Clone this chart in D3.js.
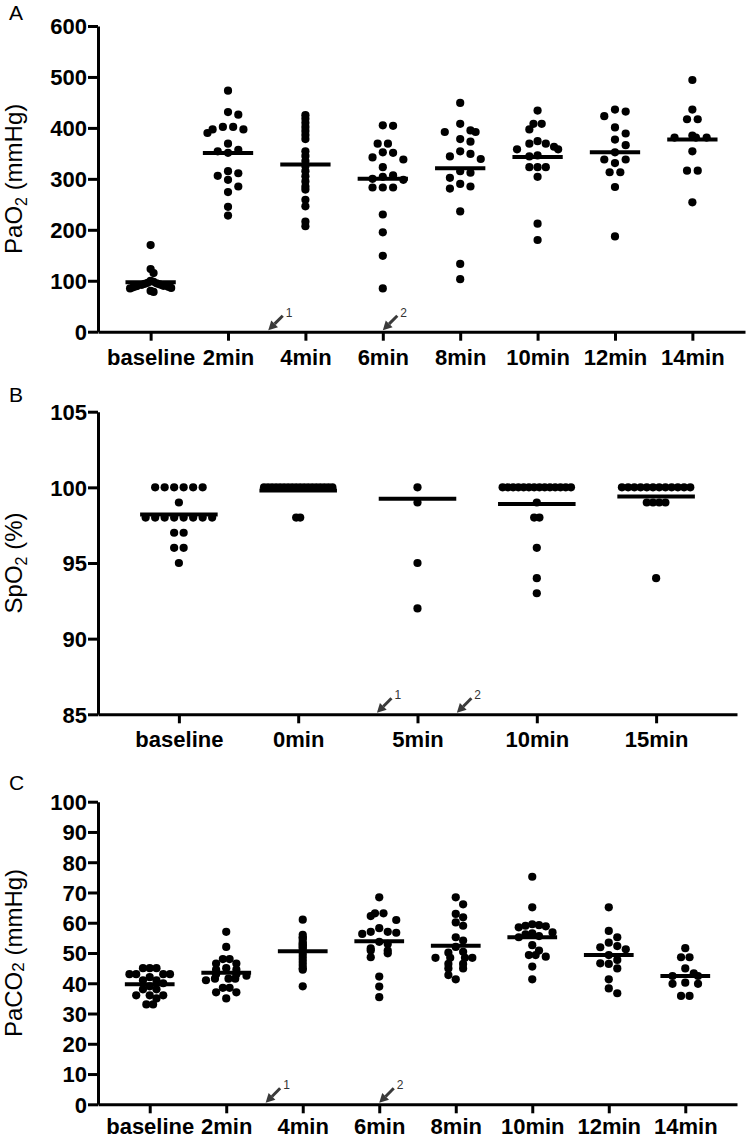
<!DOCTYPE html>
<html><head><meta charset="utf-8">
<script src="https://cdn.jsdelivr.net/npm/d3@7"></script>
<style>body{margin:0;background:#fff}svg{display:block}</style>
</head><body>
<svg id="chart" width="748" height="1141"></svg>
<script>
// ================= DATA =================
// Panel A – PaO2 (mmHg)
const categoriesA = ["baseline","2min","4min","6min","8min","10min","12min","14min"];
const paO2Values = [
  [170,123,115,100,98,96,95,94,93,92,91,90,90,89,88,87,86,85,80,78],
  [473,431,426,402,397,390,397,402,369,354,357,351,315,298,311,306,285,274,245,228],
  [425,418,410,402,394,386,378,354,345,335,325,315,305,295,285,279,259,246,216,207],
  [404,405,369,369,352,342,338,351,323,304,298,307,300,283,283,283,230,195,149,85],
  [449,408,392,392,395,378,373,354,349,344,339,312,315,302,290,285,281,236,133,103],
  [434,408,408,397,374,369,369,358,363,358,344,346,323,323,323,304,212,180],
  [436,423,432,401,389,377,366,352,338,338,331,313,313,284,187],
  [494,436,417,417,385,381,381,381,354,316,316,254]
];
const meansA = [97, 350.6, 328, 300, 321, 343, 352, 377];
const ticksA = [0,100,200,300,400,500,600];
const arrowsA = [1.52, 3.0];          // arrow positions in category-index units
const arrowLabels = ["1","2"];

// Panel B – SpO2 (%)
const categoriesB = ["baseline","0min","5min","10min","15min"];
const spO2Values = [
  [100,100,100,100,100,100,99,98,98,98,98,98,98,98,98,97,97,96,96,95],
  [100,100,100,100,100,100,100,100,100,100,100,100,100,100,100,100,100,100,98,98],
  [100,99,95,92],
  [100,100,100,100,100,100,100,100,100,100,100,100,100,100,99,98,98,96,94,93],
  [100,100,100,100,100,100,100,100,100,100,100,100,99,99,99,99,94]
];
const meansB = [98.2, 99.8, 99.25, 98.9, 99.4];
const ticksB = [85,90,95,100,105];
const arrowsB = [1.66, 2.33];

// Panel C – PaCO2 (mmHg)
const categoriesC = ["baseline","2min","4min","6min","8min","10min","12min","14min"];
const paCO2Values = [
  [45,45,45,43,43,43,43,42,41,41,40,39,38,38,36,36,36,35,33,33],
  [57,52,48,48,46.5,46.5,45,44.5,44.5,43,43,42.5,41.5,41.5,41.5,41,38.5,38.5,37,37,35],
  [61,56,55,55,54,53,53,52,52,51,50,49,48,47,46,45,44.5,39],
  [68.4,63.1,63.1,62.2,60.9,58.2,57,56.7,57,56.3,53.7,53,50.8,50.8,51.5,49.9,48.6,42.2,38.9,35.4],
  [68.4,66.1,62.9,61.8,60.1,59.0,55.2,54.1,52,50.4,50.1,48.4,48.4,48.4,48.4,46.4,46.4,44.9,44.9,42.7,41.3],
  [75.2,65.1,59.5,59,58.8,58.5,59.2,56.8,56.5,55.6,55.2,56.2,52.6,50.8,49.3,49.3,48.8,45.5,41.3],
  [65.1,57.3,55.2,53.4,52.3,51.9,51.2,49.3,47.7,46.6,46.4,44.9,41.3,38.3,36.7],
  [51.6,48.6,48.6,44.9,43.3,42.4,42.4,39.8,40.2,39.8,35.8,35.8]
];
const meansC = [39.7, 43.5, 50.6, 53.9, 52.4, 55.2, 49.3, 42.4];
const ticksC = [0,10,20,30,40,50,60,70,80,90,100];
const arrowsC = [1.515, 3.0];

// ================= LAYOUT / STYLE =================
const FONT = "'Liberation Sans', Arial, Helvetica, sans-serif";
const svg = d3.select("#chart");
const R = 4.1;           // dot radius
const DOT_D = 8.2;       // vertical collision distance

const panels = [
  {letter:"A", letterY:20, cats:categoriesA, values:paO2Values, means:meansA, ticks:ticksA,
   domain:[0,600], x0:98, x1:745, yTop:26, yBot:331.7, spacing:10.7, pad:0.68, labelY:33,
   title:[["PaO",0,24],["2",5,16],[" (mmHg)",-5,24]], arrows:arrowsA, noSwarm:["4min"]},
  {letter:"B", letterY:401.7, cats:categoriesB, values:spO2Values, means:meansB, ticks:ticksB,
   domain:[85,105], x0:98, x1:737, yTop:411.7, yBot:714.3, spacing:9.5, pad:0.678, labelY:33,
   title:[["SpO",0,24],["2",5,16],[" (%)",-5,24]], arrows:arrowsB, noSwarm:[]},
  {letter:"C", letterY:790, cats:categoriesC, values:paCO2Values, means:meansC, ticks:ticksC,
   domain:[0,100], x0:98, x1:737, yTop:801.7, yBot:1104.3, spacing:8.5, pad:0.676, labelY:30,
   title:[["PaCO",0,24],["2",2,17],[" (mmHg)",-2,24]], arrows:arrowsC, noSwarm:["4min"]}
];

function swarm(vals, y, s, limit, spread) {
  const pts = vals.map(v => ({v, y: y(v)})).sort((a,b) => a.y - b.y);
  if (!spread) { pts.forEach(p => p.off = 0); return pts; }
  const placed = [];
  for (const p of pts) {
    let best = null;
    for (let k = 0; k < 80 && best === null; k++) {
      let cands = k === 0 ? [0] : [k*s/2, -k*s/2];
      const near = placed.filter(q => Math.abs(q.y - p.y) < DOT_D);
      if (d3.sum(near, q => q.off) > 0) cands.reverse();
      for (const off of cands) {
        if (near.every(q => Math.abs(q.off - off) >= s - 1e-6)) { best = off; break; }
      }
    }
    p.off = best; placed.push(p);
  }
  d3.group(placed, p => p.v).forEach(g => {
    if (g.length > 1) { const m = d3.mean(g, p => p.off); g.forEach(p => p.off -= m); }
  });
  const maxOff = d3.max(placed, p => Math.abs(p.off));
  if (maxOff > limit) placed.forEach(p => p.off *= limit / maxOff);
  return placed;
}

panels.forEach(P => {
  const g = svg.append("g");
  const x = d3.scalePoint().domain(P.cats).range([P.x0, P.x1]).padding(P.pad);
  const y = d3.scaleLinear().domain(P.domain).range([P.yBot, P.yTop]);
  const step = x.step();
  const lineHalf = 0.325 * step;

  // panel letter
  g.append("text").attr("x", 9).attr("y", P.letterY).text(P.letter)
    .attr("font-family", FONT).attr("font-size", 21).attr("fill", "#000");

  // y axis title
  const t = g.append("text")
    .attr("transform", `translate(22,${(P.yTop + P.yBot)/2}) rotate(-90)`)
    .attr("text-anchor", "middle").attr("font-family", FONT).attr("fill", "#000");
  P.title.forEach(([txt, dy, fs]) => t.append("tspan").attr("dy", dy).attr("font-size", fs).text(txt));

  // axes
  const yAxis = g.append("g").attr("transform", `translate(${P.x0},0)`)
    .call(d3.axisLeft(y).tickValues(P.ticks).tickSize(10).tickSizeOuter(0).tickPadding(3).tickFormat(d3.format("d")));
  const xAxis = g.append("g").attr("transform", `translate(0,${P.yBot})`)
    .call(d3.axisBottom(x).tickSize(9).tickSizeOuter(0));
  [yAxis, xAxis].forEach(a => {
    a.select(".domain").attr("stroke", "#000").attr("stroke-width", 3);
    a.selectAll(".tick line").attr("stroke", "#000").attr("stroke-width", 3);
    a.selectAll(".tick text").attr("font-family", FONT).attr("font-weight", "bold")
      .attr("font-size", 22).attr("fill", "#000");
  });
  yAxis.selectAll(".tick text").attr("x", -11).attr("dy", "0.36em");
  xAxis.selectAll(".tick text").attr("y", P.labelY).attr("dy", null);

  // dots
  P.cats.forEach((c, i) => {
    const pts = swarm(P.values[i], y, P.spacing, lineHalf - R - 0.5, !P.noSwarm.includes(c));
    g.append("g").selectAll("circle").data(pts).join("circle")
      .attr("cx", d => x(c) + d.off).attr("cy", d => d.y).attr("r", R).attr("fill", "#000");
    // mean line
    g.append("line").attr("x1", x(c) - lineHalf).attr("x2", x(c) + lineHalf)
      .attr("y1", y(P.means[i])).attr("y2", y(P.means[i]))
      .attr("stroke", "#000").attr("stroke-width", 4);
  });

  // arrows
  const idx = d3.scaleLinear().domain([0, P.cats.length - 1]).range([x(P.cats[0]), x(P.cats[P.cats.length-1])]);
  P.arrows.forEach((a, k) => {
    const tip = [idx(a), P.yBot - 1.5];
    const tail = [tip[0] + 14.5, tip[1] - 14.5];
    const dx = tip[0] - tail[0], dy = tip[1] - tail[1], L = Math.hypot(dx, dy);
    const u = [dx/L, dy/L], n = [-u[1], u[0]];
    const base = [tip[0] - 9*u[0], tip[1] - 9*u[1]];
    g.append("line").attr("x1", tail[0]).attr("y1", tail[1]).attr("x2", base[0]).attr("y2", base[1])
      .attr("stroke", "#3a3a3a").attr("stroke-width", 3);
    g.append("path").attr("d", `M${tip}L${base[0]+4.8*n[0]},${base[1]+4.8*n[1]}L${base[0]-4.8*n[0]},${base[1]-4.8*n[1]}Z`)
      .attr("fill", "#3a3a3a");
    g.append("text").attr("x", tail[0] + 3).attr("y", tail[1] + 1).text(arrowLabels[k])
      .attr("font-family", FONT).attr("font-size", 12).attr("fill", "#333");
  });
});
</script>
</body></html>
